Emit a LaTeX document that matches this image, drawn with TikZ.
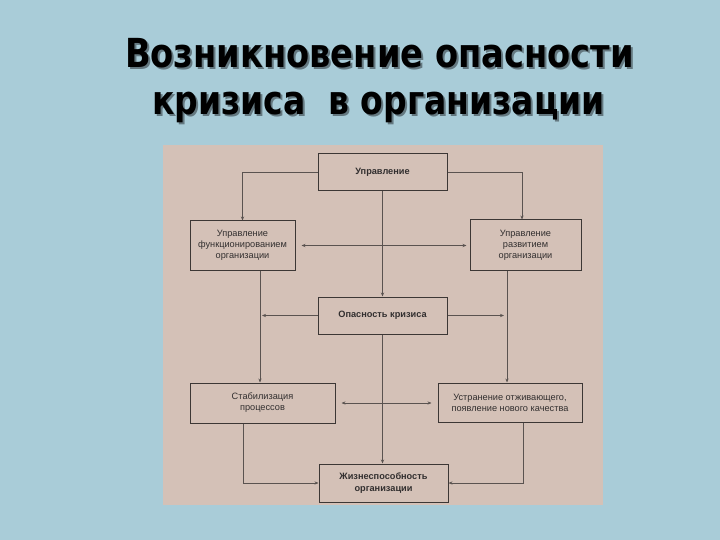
\documentclass[tikz,border=0pt]{standalone}
\usepackage{fontspec}
\usepackage{graphicx}
\setmainfont{Liberation Sans}
\newfontfamily\titlefont{DejaVu Sans}
\usetikzlibrary{arrows.meta}
\definecolor{bgc}{RGB}{169,204,216}
\definecolor{paper}{RGB}{212,193,183}
\definecolor{boxc}{RGB}{60,55,53}
\definecolor{linec}{RGB}{90,83,80}
\definecolor{txt}{RGB}{50,47,47}
\definecolor{shadowc}{RGB}{100,120,128}
\begin{document}
\begin{tikzpicture}[x=1pt,y=-1pt,
  box/.style 2 args={draw=boxc, line width=1pt, minimum width=#1, minimum height=#2, align=center, inner sep=0pt, text=txt, font=\fontsize{9.2}{11}\selectfont},
  boldbox/.style={font=\fontsize{9.2}{11.5}\selectfont\bfseries},
  conn/.style={draw=linec, line width=0.65pt},
  arr/.style={-{Stealth[length=4pt,width=3.2pt]}},
  darr/.style={{Stealth[length=4pt,width=3.2pt]}-{Stealth[length=4pt,width=3.2pt]}},
  ttl/.style={anchor=base, inner sep=0pt, font=\titlefont\bfseries\fontsize{40}{40}\selectfont}]
\useasboundingbox (0,0) rectangle (720,540);
\fill[bgc] (0,0) rectangle (720,540);
\fill[paper] (163,145) rectangle (603,505);

% title (with shadow)
\node[ttl, text=shadowc] (t1s) at (381.5,70) {\resizebox{509pt}{\height}{Возникновение опасности}};
\node[ttl, text=black] (t1) at (379.5,68) {\resizebox{509pt}{\height}{Возникновение опасности}};
\node[ttl, text=shadowc] (t2s) at (380.5,117) {\resizebox{453pt}{\height}{кризиса\ \ в организации}};
\node[ttl, text=black] (t2) at (378.5,115) {\resizebox{453pt}{\height}{кризиса\ \ в организации}};

% boxes
\node[box={129pt}{37pt}, boldbox] (upr) at (382.5,172.5) {Управление};
\node[box={105pt}{49pt}] (left) at (242.5,245.5) {Управление\\функционированием\\организации};
\node[box={111pt}{50pt}] (right) at (525.5,245) {Управление\\развитием\\организации};
\node[box={129pt}{37pt}, boldbox] (opas) at (382.5,315.5) {Опасность кризиса};
\node[box={145pt}{40pt}] (stab) at (262.5,403) {Стабилизация\\процессов};
\node[box={144pt}{39pt}] (ustr) at (510,402.5) {Устранение отживающего,\\появление нового качества};
\node[box={129pt}{38pt}, boldbox] (zhiz) at (383.5,483) {Жизнеспособность\\организации};

% helper x-positions
\coordinate (lx) at (260,0);
\coordinate (rx) at (507,0);
\coordinate (sx) at (243,0);
\coordinate (ux) at (523,0);
\coordinate (urx) at (522,0);

% connectors
\draw[conn,arr] (upr.west) -| (left.north);
\draw[conn,arr] (upr.east) -| (right.north -| urx);
\draw[conn,arr] (upr.south) -- (opas.north);
\draw[conn,darr, shorten <=6pt, shorten >=3pt] (left.east) -- (left.east -| right.west);
\draw[conn,arr] (left.south -| lx) -- (stab.north -| lx);
\draw[conn,arr] (right.south -| rx) -- (ustr.north -| rx);
\draw[conn,arr, shorten >=2pt] (opas.west) -- (opas.west -| lx);
\draw[conn,arr, shorten >=3pt] (opas.east) -- (opas.east -| rx);
\draw[conn,arr] (opas.south) -- (opas.south |- zhiz.north);
\draw[conn,darr, shorten <=6pt, shorten >=6pt] (stab.east) -- (stab.east -| ustr.west);
\draw[conn,arr] (stab.south -| sx) |- (zhiz.west);
\draw[conn,arr] (ustr.south -| ux) |- (zhiz.east);
\end{tikzpicture}
\end{document}
